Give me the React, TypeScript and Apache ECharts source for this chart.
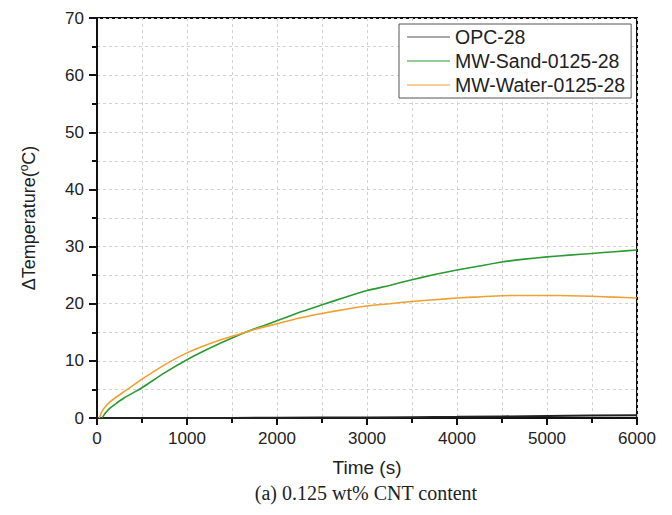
import React, { useEffect, useRef } from "react";
import * as echarts from "echarts";

const seriesNames = ["OPC-28", "MW-Sand-0125-28", "MW-Water-0125-28"];
const seriesColors = ["#222222", "#2b9a33", "#f0a030"];

const opcData: [number, number][] = [
  [0, 0], [1000, 0], [2000, 0.05], [3000, 0.1], [4000, 0.2], [5000, 0.35], [6000, 0.5],
];

const sandData: [number, number][] = [
  [55, 0], [100, 1.0], [150, 1.8], [200, 2.4], [300, 3.5], [400, 4.4], [500, 5.3],
  [750, 7.9], [1000, 10.2], [1250, 12.2], [1500, 14.0], [1750, 15.6], [2000, 17.0],
  [2250, 18.5], [2500, 19.8], [2750, 21.1], [3000, 22.3], [3250, 23.2], [3500, 24.2],
  [3750, 25.1], [4000, 25.9], [4250, 26.6], [4500, 27.3], [4750, 27.8], [5000, 28.2],
  [5250, 28.5], [5500, 28.8], [5750, 29.1], [6000, 29.4],
];

const waterData: [number, number][] = [
  [25, 0], [60, 1.3], [100, 2.1], [150, 2.9], [200, 3.5], [300, 4.6], [400, 5.7],
  [500, 6.8], [750, 9.3], [1000, 11.4], [1250, 13.0], [1500, 14.3], [1750, 15.5],
  [2000, 16.5], [2250, 17.5], [2500, 18.3], [2750, 19.0], [3000, 19.6], [3250, 20.0],
  [3500, 20.4], [3750, 20.7], [4000, 21.0], [4250, 21.2], [4500, 21.4], [4750, 21.45],
  [5000, 21.45], [5250, 21.4], [5500, 21.3], [5750, 21.15], [6000, 21.0],
];

const xTitle = "Time (s)";
const caption = "(a) 0.125 wt% CNT content";

const SANS = "'Liberation Sans', Arial, sans-serif";
const SERIF = "'Liberation Serif', 'Times New Roman', serif";

export default function App() {
  const ref = useRef<HTMLDivElement>(null);
  useEffect(() => {
    document.body.style.margin = "0";
    if (!ref.current) return;
    const chart = echarts.init(ref.current, undefined, { renderer: "svg" });
    const dashed = { show: true, lineStyle: { color: "#d2d2d2", type: [3, 3] as any, width: 1 } };
    const datas = [opcData, sandData, waterData];
    chart.setOption({
      animation: false,
      backgroundColor: "#ffffff",
      grid: {
        left: 97, right: 35, top: 18, bottom: 97,
        show: true, borderColor: "#111", borderWidth: 2, backgroundColor: "transparent",
      },
      legend: {
        left: 399, top: 24,
        orient: "vertical",
        padding: [3, 6, 3, 8],
        itemGap: 4,
        itemWidth: 43,
        itemHeight: 1.2,
        icon: "rect",
        borderColor: "#555",
        borderWidth: 1,
        backgroundColor: "#fff",
        textStyle: { fontFamily: SANS, fontSize: 19.5, color: "#222", lineHeight: 20 },
        data: seriesNames.map((n, i) => ({ name: n, itemStyle: { color: i === 0 ? "#555" : seriesColors[i] } })),
      },
      xAxis: {
        type: "value", min: 0, max: 6000, interval: 1000,
        name: xTitle, nameLocation: "middle", nameGap: 40,
        nameTextStyle: { fontFamily: SANS, fontSize: 19, color: "#222" },
        axisLine: { show: true, lineStyle: { color: "#111", width: 2 } },
        axisTick: { show: true, length: 7, inside: false, lineStyle: { color: "#111", width: 2 } },
        minorTick: { show: true, splitNumber: 2, length: 5, lineStyle: { color: "#111", width: 2 } },
        axisLabel: { fontFamily: SANS, fontSize: 17, color: "#222", margin: 12, formatter: (v: number) => String(v) },
        splitLine: dashed,
        minorSplitLine: dashed,
      },
      yAxis: {
        type: "value", min: 0, max: 70, interval: 10,
        name: "{a|ΔTemperature(}{b|o}{a|C)}", nameLocation: "middle", nameGap: 57, nameRotate: 90,
        nameTextStyle: {
          fontFamily: SANS, fontSize: 18, color: "#222",
          rich: {
            a: { fontFamily: SANS, fontSize: 18, color: "#222" },
            b: { fontFamily: SANS, fontSize: 12, color: "#222", padding: [0, 0, 10, 0] },
          },
        },
        axisLine: { show: true, lineStyle: { color: "#111", width: 2 } },
        axisTick: { show: true, length: 8, inside: false, lineStyle: { color: "#111", width: 2 } },
        minorTick: { show: true, splitNumber: 2, length: 5, lineStyle: { color: "#111", width: 2 } },
        axisLabel: { fontFamily: SANS, fontSize: 17, color: "#222", margin: 13, formatter: (v: number) => String(v) },
        splitLine: dashed,
        minorSplitLine: dashed,
      },
      series: seriesNames.map((n, i) => ({
        name: n,
        type: "line",
        data: datas[i],
        smooth: 0.2,
        symbol: "none",
        showSymbol: false,
        color: seriesColors[i],
        lineStyle: { color: seriesColors[i], width: i === 0 ? 2 : 1.6 },
        z: 3 + i,
      })),
      graphic: [
        {
          type: "text",
          x: 366,
          y: 493,
          style: {
            text: caption, font: `20px ${SERIF}`, fill: "#222",
            textAlign: "center", textVerticalAlign: "middle",
          },
        },
      ],
    });
    return () => chart.dispose();
  }, []);
  return <div ref={ref} style={{ position: "fixed", left: 0, top: 0, width: 672, height: 515 }} />;
}
